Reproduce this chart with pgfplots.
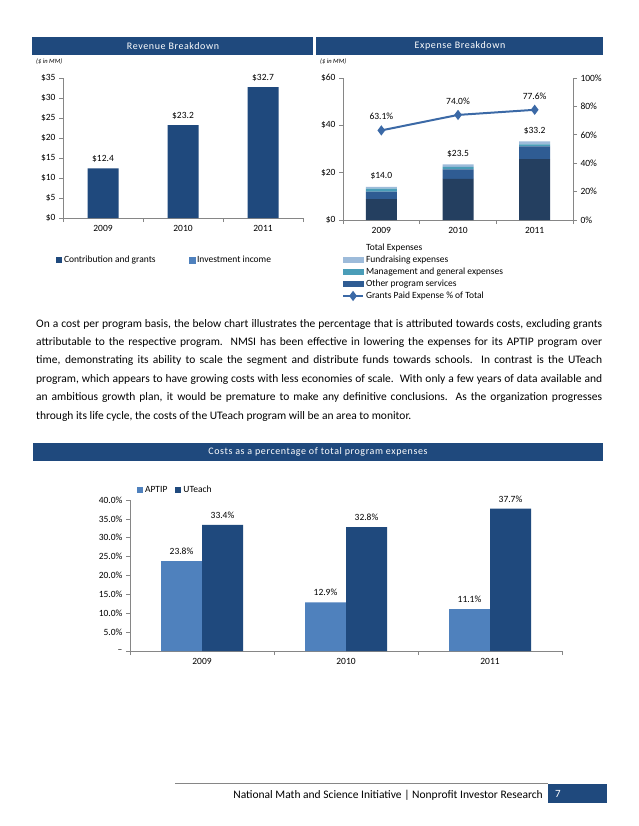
\documentclass[border=0pt]{standalone}
\usepackage{fontspec}
\setmainfont{Carlito}
\usepackage{pgfplots}
\pgfplotsset{compat=1.18}
\definecolor{hdr}{HTML}{1F497D}
\definecolor{navy}{HTML}{243F60}
\definecolor{midblue}{HTML}{2F5C93}
\definecolor{tealc}{HTML}{4A9DB8}
\definecolor{fund}{HTML}{9DBBDA}
\definecolor{lineblue}{HTML}{3B69A6}
\definecolor{aptip}{HTML}{4F81BD}
\definecolor{axgray}{HTML}{868686}
\newcommand{\tf}{\fontsize{9.5}{11}\selectfont}
\pgfplotsset{
  pg/.style={scale only axis, clip=false,
    axis x line*=bottom, axis y line*=left,
    axis line style={axgray, line width=0.6pt},
    tick style={axgray, line width=0.6pt},
    tick align=outside, major tick length=4pt, minor tick length=4pt,
    xmin=-0.5, xmax=2.5, xtick={0,1,2}, xticklabels={2009,2010,2011},
    major x tick style={draw=none},
    minor xtick={-0.5,0.5,1.5,2.5},
    ticklabel style={font=\tf, text=black},
    every node near coord/.append style={font=\tf, text=black},
    legend style={draw=none, fill=none, font=\tf, inner sep=0pt},
    legend cell align=left},
  sq/.style={legend image code/.code={\fill[#1] (0pt,-3pt) rectangle (6pt,3pt);}},
  wide/.style={legend image code/.code={\fill[#1] (0pt,-2.5pt) rectangle (20pt,2.5pt);}},
  lineleg/.style={legend image code/.code={\draw[mark repeat=2, mark phase=2, ##1] plot coordinates {(0pt,0pt) (10pt,0pt) (20pt,0pt)};}}
}
\begin{document}
\begin{tikzpicture}
\fill[white] (0pt,0pt) rectangle (638pt,-826pt);
% headers
\fill[hdr] (32pt,-37pt) rectangle (313pt,-55pt);
\fill[hdr] (316pt,-37pt) rectangle (603pt,-55pt);
\fill[hdr] (33pt,-443pt) rectangle (603pt,-461pt);
\node[white, font=\fontsize{10}{12}\selectfont\addfontfeatures{LetterSpace=6}] at (173pt,-46pt) {Revenue Breakdown};
\node[white, font=\fontsize{10}{12}\selectfont\addfontfeatures{LetterSpace=6}] at (460pt,-46pt) {Expense Breakdown};
\node[white, font=\fontsize{10}{12}\selectfont\addfontfeatures{LetterSpace=6}] at (318pt,-452pt) {Costs as a percentage of total program expenses};
\node[anchor=west, inner sep=0pt, font=\fontsize{6.5}{7}\selectfont\itshape] at (36pt,-62pt) {(\$ in MM)};
\node[anchor=west, inner sep=0pt, font=\fontsize{6.5}{7}\selectfont\itshape] at (320pt,-62pt) {(\$ in MM)};

% Revenue
\begin{axis}[pg, at={(63pt,-218pt)}, anchor=south west, width=240pt, height=140pt,
  ymin=0, ymax=35, ytick={0,5,...,35},
  yticklabels={\$0,\$5,\$10,\$15,\$20,\$25,\$30,\$35},
  ybar, bar width=31pt,
  legend columns=2,
  legend style={at={(-0.03,-0.30)}, anchor=west, /tikz/every even column/.append style={column sep=31pt}}]
\addplot[bar shift=0pt, fill=hdr, draw=none, sq=hdr,
  nodes near coords, point meta=explicit symbolic,
  every node near coord/.append style={yshift=2pt}]
  coordinates {(0,12.4)[\$12.4] (1,23.2)[\$23.2] (2,32.7)[\$32.7]};
\addlegendentry{Contribution and grants}
\addlegendimage{sq=aptip}
\addlegendentry{Investment income}
\end{axis}

% Expense
\begin{axis}[pg, at={(343pt,-220pt)}, anchor=south west, width=230pt, height=142pt,
  ymin=0, ymax=60, ytick={0,20,40,60}, yticklabels={\$0,\$20,\$40,\$60},
  ybar stacked, bar width=31pt]
\addplot[fill=navy, draw=none] coordinates {(0,8.83) (1,17.39) (2,25.76)};
\addplot[fill=midblue, draw=none] coordinates {(0,3.2) (1,4.0) (2,5.3)};
\addplot[fill=tealc, draw=none] coordinates {(0,1.2) (1,1.1) (2,0.9)};
\addplot[fill=fund, draw=none, nodes near coords, point meta=explicit symbolic,
  every node near coord/.append style={anchor=center, yshift=12pt}]
  coordinates {(0,0.77)[\$14.0] (1,1.01)[\$23.5] (2,1.24)[\$33.2]};
\end{axis}
\begin{axis}[pg, at={(343pt,-220pt)}, anchor=south west, width=230pt, height=142pt,
  axis x line=none, axis y line*=right,
  ymin=0, ymax=100, ytick={0,20,...,100},
  yticklabels={0\%,20\%,40\%,60\%,80\%,100\%},
  legend style={at={(-0.005,-0.15)}, anchor=north west}]
\addlegendimage{empty legend}
\addlegendentry{Total Expenses}
\addlegendimage{wide=fund}
\addlegendentry{Fundraising expenses}
\addlegendimage{wide=tealc}
\addlegendentry{Management and general expenses}
\addlegendimage{wide=midblue}
\addlegendentry{Other program services}
\addplot[lineblue, line width=2pt, mark=diamond*, mark size=3.5pt, lineleg,
  nodes near coords, point meta=explicit symbolic,
  every node near coord/.append style={yshift=6pt}]
  coordinates {(0,63.1)[63.1\%] (1,74.0)[74.0\%] (2,77.6)[77.6\%]};
\addlegendentry{Grants Paid Expense \% of Total}
\end{axis}

% paragraph
\node[anchor=north west, inner sep=0pt] at (36pt,-319pt) {\begin{minipage}{566pt}\fontsize{11.5}{18.4}\selectfont
On a cost per program basis, the below chart illustrates the percentage that is attributed towards costs, excluding grants\linebreak
attributable to the respective program.\ \ NMSI has been effective in lowering the expenses for its APTIP program over\linebreak
time, demonstrating its ability to scale the segment and distribute funds towards schools.\ \ In contrast is the UTeach\linebreak
program, which appears to have growing costs with less economies of scale.\ \ With only a few years of data available and\linebreak
an ambitious growth plan, it would be premature to make any definitive conclusions.\ \ As the organization progresses\linebreak
through its life cycle, the costs of the UTeach program will be an area to monitor.
\end{minipage}};

% Costs
\begin{axis}[pg, at={(130pt,-651pt)}, anchor=south west, width=432pt, height=151pt,
  ymin=0, ymax=40, ytick={0,5,...,40},
  yticklabels={--,5.0\%,10.0\%,15.0\%,20.0\%,25.0\%,30.0\%,35.0\%,40.0\%},
  ybar, bar width=41pt,
  legend columns=2,
  legend style={at={(0.016,1.066)}, anchor=west, /tikz/every even column/.append style={column sep=6pt}}]
\addplot[bar shift=-20.5pt, fill=aptip, draw=none, sq=aptip,
  nodes near coords, point meta=explicit symbolic,
  every node near coord/.append style={yshift=3pt}]
  coordinates {(0,23.8)[23.8\%] (1,12.9)[12.9\%] (2,11.1)[11.1\%]};
\addlegendentry{APTIP}
\addplot[bar shift=20.5pt, fill=hdr, draw=none, sq=hdr,
  nodes near coords, point meta=explicit symbolic,
  every node near coord/.append style={yshift=3pt}]
  coordinates {(0,33.4)[33.4\%] (1,32.8)[32.8\%] (2,37.7)[37.7\%]};
\addlegendentry{UTeach}
\end{axis}

% footer
\draw[axgray, line width=0.6pt] (175pt,-783pt) -- (548pt,-783pt);
\node[anchor=east, inner sep=0pt, font=\fontsize{11.5}{13}\selectfont] at (543pt,-795pt) {National Math and Science Initiative | Nonprofit Investor Research};
\fill[hdr] (548pt,-784pt) rectangle (607pt,-803pt);
\node[anchor=west, inner sep=0pt, white, font=\fontsize{11}{13}\selectfont] at (555pt,-794pt) {7};
\end{tikzpicture}
\end{document}
